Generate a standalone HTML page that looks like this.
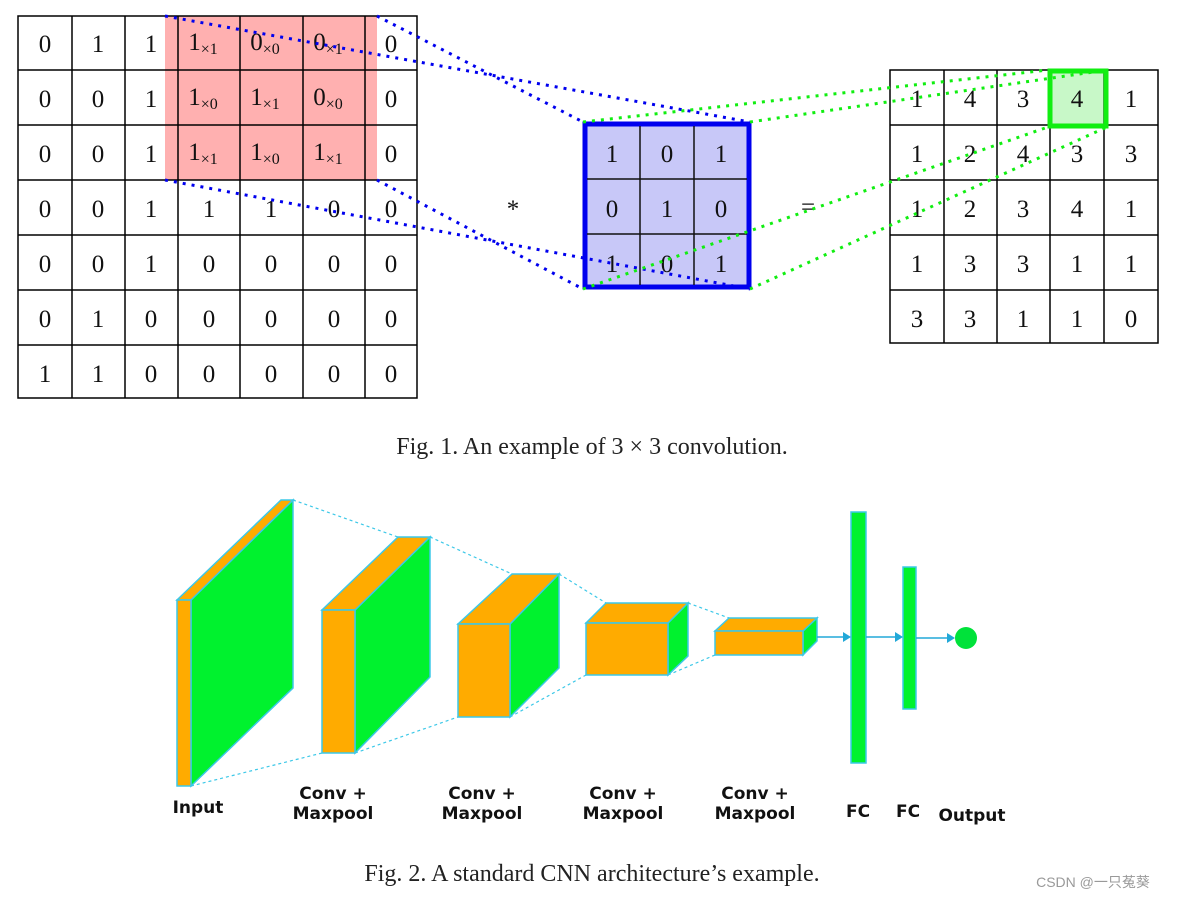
<!DOCTYPE html>
<html><head><meta charset="utf-8"><style>
html,body{margin:0;padding:0;background:#fff;}
svg{display:block;}
.n{font-family:"Liberation Serif",serif;font-size:25px;fill:#111;text-anchor:middle;}
.s{font-size:16px;}
.cap{font-family:"Liberation Serif",serif;font-size:24px;fill:#222;text-anchor:middle;}
.lb{font-family:"DejaVu Sans","Liberation Sans",sans-serif;font-weight:bold;font-size:17px;fill:#111;text-anchor:middle;}
</style></head><body>
<svg width="1177" height="898" viewBox="0 0 1177 898" xmlns="http://www.w3.org/2000/svg">
<rect width="1177" height="898" fill="#fff"/>
<!-- left grid -->
<rect x="165" y="16" width="212" height="164" fill="#ffb0b0"/>
<g stroke="#000" stroke-width="1.5" fill="none">
<rect x="18" y="16" width="399" height="382"/>
<line x1="72" y1="16" x2="72" y2="398"/><line x1="125" y1="16" x2="125" y2="398"/><line x1="178" y1="16" x2="178" y2="398"/><line x1="240" y1="16" x2="240" y2="398"/><line x1="303" y1="16" x2="303" y2="398"/><line x1="365" y1="16" x2="365" y2="398"/>
<line x1="18" y1="70" x2="417" y2="70"/><line x1="18" y1="125" x2="417" y2="125"/><line x1="18" y1="180" x2="417" y2="180"/><line x1="18" y1="235" x2="417" y2="235"/><line x1="18" y1="290" x2="417" y2="290"/><line x1="18" y1="345" x2="417" y2="345"/>
</g>
<g class="n">
<text x="45" y="52">0</text><text x="98" y="52">1</text><text x="151" y="52">1</text><text x="203" y="50">1<tspan class="s" dy="4">×1</tspan></text><text x="265" y="50">0<tspan class="s" dy="4">×0</tspan></text><text x="328" y="50">0<tspan class="s" dy="4">×1</tspan></text><text x="391" y="52">0</text>
<text x="45" y="107">0</text><text x="98" y="107">0</text><text x="151" y="107">1</text><text x="203" y="105">1<tspan class="s" dy="4">×0</tspan></text><text x="265" y="105">1<tspan class="s" dy="4">×1</tspan></text><text x="328" y="105">0<tspan class="s" dy="4">×0</tspan></text><text x="391" y="107">0</text>
<text x="45" y="162">0</text><text x="98" y="162">0</text><text x="151" y="162">1</text><text x="203" y="160">1<tspan class="s" dy="4">×1</tspan></text><text x="265" y="160">1<tspan class="s" dy="4">×0</tspan></text><text x="328" y="160">1<tspan class="s" dy="4">×1</tspan></text><text x="391" y="162">0</text>
<text x="45" y="217">0</text><text x="98" y="217">0</text><text x="151" y="217">1</text><text x="209" y="217">1</text><text x="271" y="217">1</text><text x="334" y="217">0</text><text x="391" y="217">0</text>
<text x="45" y="272">0</text><text x="98" y="272">0</text><text x="151" y="272">1</text><text x="209" y="272">0</text><text x="271" y="272">0</text><text x="334" y="272">0</text><text x="391" y="272">0</text>
<text x="45" y="327">0</text><text x="98" y="327">1</text><text x="151" y="327">0</text><text x="209" y="327">0</text><text x="271" y="327">0</text><text x="334" y="327">0</text><text x="391" y="327">0</text>
<text x="45" y="382">1</text><text x="98" y="382">1</text><text x="151" y="382">0</text><text x="209" y="382">0</text><text x="271" y="382">0</text><text x="334" y="382">0</text><text x="391" y="382">0</text>
</g>
<!-- kernel -->
<rect x="585" y="124" width="164" height="163" fill="#c8c8f8" stroke="#0000ee" stroke-width="5"/>
<g stroke="#111" stroke-width="1.5"><line x1="640" y1="126" x2="640" y2="285"/><line x1="694" y1="126" x2="694" y2="285"/><line x1="587" y1="179" x2="747" y2="179"/><line x1="587" y1="234" x2="747" y2="234"/></g>
<g class="n"><text x="612" y="162">1</text><text x="667" y="162">0</text><text x="721" y="162">1</text><text x="612" y="217">0</text><text x="667" y="217">1</text><text x="721" y="217">0</text><text x="612" y="272">1</text><text x="667" y="272">0</text><text x="721" y="272">1</text></g>
<text class="n" x="513" y="217">*</text><text class="n" x="808" y="215">=</text>
<!-- output grid -->
<rect x="1050" y="72" width="55" height="53" fill="#c8f8c8"/>
<g stroke="#000" stroke-width="1.5" fill="none">
<rect x="890" y="70" width="268" height="273"/>
<line x1="944" y1="70" x2="944" y2="343"/><line x1="997" y1="70" x2="997" y2="343"/><line x1="1050" y1="70" x2="1050" y2="343"/><line x1="1104" y1="70" x2="1104" y2="343"/>
<line x1="890" y1="125" x2="1158" y2="125"/><line x1="890" y1="180" x2="1158" y2="180"/><line x1="890" y1="235" x2="1158" y2="235"/><line x1="890" y1="290" x2="1158" y2="290"/>
</g>
<rect x="1050" y="71" width="56" height="55" fill="none" stroke="#11ee11" stroke-width="5"/>
<g class="n">
<text x="917" y="107">1</text><text x="970" y="107">4</text><text x="1023" y="107">3</text><text x="1077" y="107">4</text><text x="1131" y="107">1</text>
<text x="917" y="162">1</text><text x="970" y="162">2</text><text x="1023" y="162">4</text><text x="1077" y="162">3</text><text x="1131" y="162">3</text>
<text x="917" y="217">1</text><text x="970" y="217">2</text><text x="1023" y="217">3</text><text x="1077" y="217">4</text><text x="1131" y="217">1</text>
<text x="917" y="272">1</text><text x="970" y="272">3</text><text x="1023" y="272">3</text><text x="1077" y="272">1</text><text x="1131" y="272">1</text>
<text x="917" y="327">3</text><text x="970" y="327">3</text><text x="1023" y="327">1</text><text x="1077" y="327">1</text><text x="1131" y="327">0</text>
</g>
<!-- dotted lines -->
<g stroke="#0000ee" stroke-width="3" stroke-dasharray="3 6" fill="none">
<line x1="165" y1="16" x2="750" y2="122"/><line x1="377" y1="16" x2="583" y2="122"/>
<line x1="165" y1="180" x2="750" y2="289"/><line x1="377" y1="180" x2="583" y2="289"/>
</g>
<g stroke="#11ee11" stroke-width="3" stroke-dasharray="3 6" fill="none">
<line x1="583" y1="122" x2="1048" y2="70"/><line x1="750" y1="122" x2="1107" y2="70"/>
<line x1="583" y1="289" x2="1048" y2="127"/><line x1="750" y1="289" x2="1107" y2="127"/>
</g>
<text class="cap" x="592" y="454">Fig. 1.  An example of 3 × 3 convolution.</text>
<!-- CNN -->
<g stroke="#3cc8e8" stroke-width="1.2" stroke-dasharray="3 3" fill="none">
<line x1="293" y1="500" x2="398" y2="537"/><line x1="430" y1="537" x2="512" y2="574"/><line x1="559" y1="574" x2="606" y2="603"/><line x1="688" y1="603" x2="729" y2="618"/>
<line x1="191" y1="786" x2="322" y2="753"/><line x1="355" y1="753" x2="458" y2="717"/><line x1="510" y1="717" x2="586" y2="675"/><line x1="668" y1="675" x2="715" y2="655"/>
</g>
<g stroke="#3cc8e8" stroke-width="1.5">
<polygon points="191,600 293,500 293,688 191,786" fill="#00f22e"/>
<polygon points="177,600 191,600 293,500 281,500" fill="#ffab00"/>
<rect x="177" y="600" width="14" height="186" fill="#ffab00"/>
<polygon points="355,610 430,537 430,677 355,753" fill="#00f22e"/>
<polygon points="322,610 355,610 430,537 398,537" fill="#ffab00"/>
<rect x="322" y="610" width="33" height="143" fill="#ffab00"/>
<polygon points="510,624 559,574 559,668 510,717" fill="#00f22e"/>
<polygon points="458,624 510,624 559,574 512,574" fill="#ffab00"/>
<rect x="458" y="624" width="52" height="93" fill="#ffab00"/>
<polygon points="668,623 688,603 688,656 668,675" fill="#00f22e"/>
<polygon points="586,623 668,623 688,603 606,603" fill="#ffab00"/>
<rect x="586" y="623" width="82" height="52" fill="#ffab00"/>
<polygon points="803,631 817,618 817,641 803,655" fill="#00f22e"/>
<polygon points="715,631 803,631 817,618 729,618" fill="#ffab00"/>
<rect x="715" y="631" width="88" height="24" fill="#ffab00"/>
<rect x="851" y="512" width="15" height="251" fill="#00f22e"/>
<rect x="903" y="567" width="13" height="142" fill="#00f22e"/>
</g>
<circle cx="966" cy="638" r="11" fill="#00e23a"/>
<g stroke="#22a8d8" stroke-width="1.5"><line x1="817" y1="637" x2="846" y2="637"/><line x1="866" y1="637" x2="898" y2="637"/><line x1="916" y1="638" x2="950" y2="638"/></g>
<g fill="#22a8d8"><polygon points="851,637 843,632 843,642"/><polygon points="903,637 895,632 895,642"/><polygon points="955,638 947,633 947,643"/></g>
<g class="lb">
<text x="198" y="813">Input</text>
<text x="333" y="799">Conv +</text><text x="333" y="819">Maxpool</text>
<text x="482" y="799">Conv +</text><text x="482" y="819">Maxpool</text>
<text x="623" y="799">Conv +</text><text x="623" y="819">Maxpool</text>
<text x="755" y="799">Conv +</text><text x="755" y="819">Maxpool</text>
<text x="858" y="817">FC</text><text x="908" y="817">FC</text><text x="972" y="821">Output</text>
</g>
<text class="cap" x="592" y="881">Fig. 2.  A standard CNN architecture’s example.</text>
<text x="1093" y="887" font-family="'Liberation Sans','Noto Sans CJK SC',sans-serif" font-size="14" fill="#999" text-anchor="middle">CSDN @一只菟葵</text>
</svg>
</body></html>
